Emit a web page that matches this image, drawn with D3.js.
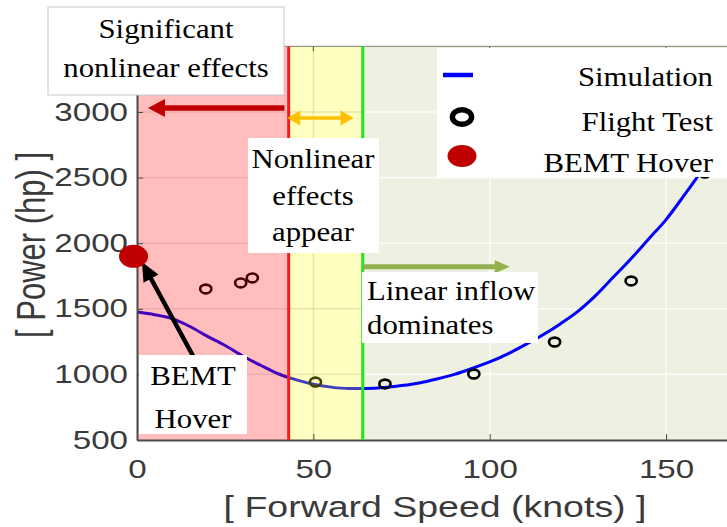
<!DOCTYPE html>
<html>
<head>
<meta charset="utf-8">
<script src="https://cdn.jsdelivr.net/npm/d3@7"></script>
<style>
  html, body { margin: 0; padding: 0; background: #fff; }
  svg { display: block; }
</style>
</head>
<body>
<svg id="chart" width="727" height="527"></svg>
<script>
// Rotor power required vs forward speed: simulation, flight test and BEMT hover estimate
const simSpeed = [0, 5, 10, 15, 20, 25, 30, 35, 40, 45, 50, 55, 60, 65, 70, 75, 80, 85, 90, 95,
                  100, 105, 110, 115, 120, 125, 130, 135, 140, 145, 150, 155, 160, 165];
const simPower = [1475, 1455, 1425, 1365, 1290, 1220, 1140, 1070, 1005, 960, 925, 903, 892, 893, 900, 915, 935, 965, 1000, 1045,
                  1095, 1155, 1225, 1300, 1385, 1480, 1600, 1740, 1880, 2030, 2180, 2360, 2550, 2760];
const testSpeed = [19.5, 29.4, 32.7, 50.6, 70.3, 95.5, 118.4, 140.1, 161];
const testPower = [1651, 1697, 1735, 942, 927, 1003, 1247, 1712, 2535];
const bemtSpeed = [0];
const bemtPower = [1900];
const xTicks = [0, 50, 100, 150];
const yTicks = [500, 1000, 1500, 2000, 2500, 3000];
const gridY = [1000, 1500, 2000, 2500, 3000];
const gridX = [50, 100, 150];
const regionBounds = [43, 64];   // knots: end of strong nonlinearity, start of linear inflow
const legendLabels = ["Simulation", "Flight Test", "BEMT Hover"];

const SANS = "'Liberation Sans', Arial, sans-serif";
const SERIF = "'Liberation Serif', 'Times New Roman', serif";

const svg = d3.select("#chart");
const x = d3.scaleLinear().domain([0, 170]).range([137, 736.6]);
const y = d3.scaleLinear().domain([500, 3500]).range([440, 46.4]);
const [x0, x1] = x.range();
const [yB, yT] = y.range();

const defs = svg.append("defs");
function clipRect(id, a, b) {
  defs.append("clipPath").attr("id", id).append("rect")
    .attr("x", a).attr("y", yT).attr("width", b - a).attr("height", yB - yT);
}
clipRect("clipLinear", x(regionBounds[1]), x1);
clipRect("clipNonlin", x0, x(regionBounds[1]));

// background of the linear-inflow region
svg.append("rect")
  .attr("x", x(regionBounds[1])).attr("y", yT)
  .attr("width", x1 - x(regionBounds[1])).attr("height", yB - yT)
  .attr("fill", "#eef0e2");

function drawGrid(clipId, color, width) {
  const g = svg.append("g").attr("clip-path", `url(#${clipId})`)
    .attr("stroke", color).attr("stroke-width", width);
  g.selectAll("line.h").data(gridY).join("line").attr("class", "h")
    .attr("x1", x0).attr("x2", x1).attr("y1", d => y(d)).attr("y2", d => y(d));
  g.selectAll("line.v").data(gridX).join("line").attr("class", "v")
    .attr("x1", d => x(d)).attr("x2", d => x(d)).attr("y1", yT).attr("y2", yB);
}
drawGrid("clipLinear", "#fbfbf8", 1.6);

// simulation curve
const line = d3.line().x((d, i) => x(simSpeed[i])).y(d => y(d)).curve(d3.curveMonotoneX);
svg.append("path").datum(simPower)
  .attr("d", line).attr("fill", "none")
  .attr("stroke", "#0000ff").attr("stroke-width", 3);

// flight test points
svg.append("g").selectAll("ellipse").data(testPower).join("ellipse")
  .attr("cx", (d, i) => x(testSpeed[i])).attr("cy", d => y(d))
  .attr("rx", 5.6).attr("ry", 4.4)
  .attr("fill", "none").attr("stroke", "#000").attr("stroke-width", 2.6);

// translucent overlays for the nonlinear regions
svg.append("rect")
  .attr("x", x0).attr("y", yT)
  .attr("width", x(regionBounds[0]) - x0).attr("height", yB - yT)
  .attr("fill", "rgb(255,0,0)").attr("fill-opacity", 0.26);
svg.append("rect")
  .attr("x", x(regionBounds[0])).attr("y", yT)
  .attr("width", x(regionBounds[1]) - x(regionBounds[0])).attr("height", yB - yT)
  .attr("fill", "rgb(255,255,0)").attr("fill-opacity", 0.25);
drawGrid("clipNonlin", "rgba(140,80,50,0.16)", 1.4);

// top border with inward ticks
svg.append("line").attr("x1", x0).attr("x2", x1).attr("y1", yT).attr("y2", yT)
  .attr("stroke", "#9a9a8a").attr("stroke-width", 1.2);
svg.append("g").selectAll("line").data(xTicks.slice(1)).join("line")
  .attr("x1", d => x(d)).attr("x2", d => x(d)).attr("y1", yT).attr("y2", yT + 5)
  .attr("stroke", "#555").attr("stroke-width", 1);

// axes
const axL = svg.append("g").attr("transform", `translate(${x0},0)`)
  .call(d3.axisLeft(y).tickValues(yTicks).tickFormat(d3.format("d"))
    .tickSizeInner(-6).tickSizeOuter(0).tickPadding(0));
const axB = svg.append("g").attr("transform", `translate(0,${yB})`)
  .call(d3.axisBottom(x).tickValues(xTicks).tickFormat(d3.format("d"))
    .tickSizeInner(-6).tickSizeOuter(0).tickPadding(0));
[axL, axB].forEach(ax => {
  ax.select(".domain").attr("stroke", "#4a4a4a").attr("stroke-width", 2);
  ax.selectAll(".tick line").attr("stroke", "#4a4a4a").attr("stroke-width", 1);
  ax.selectAll(".tick text")
    .style("font-family", SANS).style("font-size", "25.5px").attr("fill", "#3a3a3a");
});
axL.selectAll(".tick text").attr("x", 0).attr("transform", "translate(-9,0) scale(1.3,1)");
axB.selectAll(".tick text").attr("y", 0).attr("dy", null).attr("transform", "translate(0,38) scale(1.3,1)");

// helper for horizontally stretched text
function label(parent, px, py, str, o) {
  return parent.append("text")
    .attr("transform", `translate(${px},${py}) scale(${o.sx || 1},1)${o.rotate ? ` rotate(${o.rotate})` : ""}`)
    .attr("text-anchor", o.anchor || "middle")
    .style("font-family", o.family)
    .style("font-size", o.size + "px")
    .attr("fill", o.fill || "#000")
    .text(str);
}

// axis titles
label(svg, 435, 517, "[ Forward Speed (knots) ]", { family: SANS, size: 30, sx: 1.25, fill: "#3a3a3a" });
label(svg, 45, 245, "[ Power (hp) ]", { family: SANS, size: 31, sx: 1.3, rotate: -90, fill: "#3a3a3a" });

// region boundaries
svg.append("line").attr("x1", x(regionBounds[0])).attr("x2", x(regionBounds[0]))
  .attr("y1", yT).attr("y2", yB).attr("stroke", "#ff1a1a").attr("stroke-width", 3);
svg.append("line").attr("x1", x(regionBounds[1])).attr("x2", x(regionBounds[1]))
  .attr("y1", yT).attr("y2", yB).attr("stroke", "#1ee61e").attr("stroke-width", 3);

// arrows
function arrow(pA, pB, color, w, headLen, headHalf, both) {
  const g = svg.append("g");
  const dx = pB[0] - pA[0], dy = pB[1] - pA[1];
  const L = Math.hypot(dx, dy), ux = dx / L, uy = dy / L, nx = -uy, ny = ux;
  const head = (tip, s) => {
    const bx = tip[0] - s * ux * headLen, by = tip[1] - s * uy * headLen;
    g.append("polygon").attr("fill", color)
      .attr("points", [[tip[0], tip[1]], [bx + nx * headHalf, by + ny * headHalf], [bx - nx * headHalf, by - ny * headHalf]].join(" "));
  };
  const sA = both ? [pA[0] + ux * headLen * 0.9, pA[1] + uy * headLen * 0.9] : pA;
  const sB = [pB[0] - ux * headLen * 0.9, pB[1] - uy * headLen * 0.9];
  g.append("line").attr("x1", sA[0]).attr("y1", sA[1]).attr("x2", sB[0]).attr("y2", sB[1])
    .attr("stroke", color).attr("stroke-width", w);
  head(pB, 1);
  if (both) head(pA, -1);
}
arrow([x(41.8), y(3030)], [x(3.1), y(3030)], "#c00000", 5.5, 17, 9, false);
arrow([x(42.6), y(2955)], [x(61.4), y(2955)], "#ffc000", 3.5, 13, 7.5, true);
arrow([x(64.2), y(1820)], [x(105.7), y(1820)], "#92b050", 5, 15, 6.5, false);
arrow([x(15.9), y(1140)], [x(1.4), y(1857)], "#000000", 4.5, 19, 8.5, false);

// BEMT hover estimate
svg.append("g").selectAll("ellipse").data(bemtPower).join("ellipse")
  .attr("cx", (d, i) => x(bemtSpeed[i]) - 3.5).attr("cy", d => y(d))
  .attr("rx", 14.5).attr("ry", 11.5).attr("fill", "#c00000");

// annotation boxes
function box(bx, by, bw, bh, lines, o) {
  const g = svg.append("g");
  g.append("rect").attr("x", bx).attr("y", by).attr("width", bw).attr("height", bh)
    .attr("fill", "#fff").attr("stroke", o.stroke || "none").attr("stroke-width", 1);
  lines.forEach(l => label(g, l[0], l[1], l[2], { family: SERIF, size: 27, sx: 1.14, anchor: o.anchor || "middle" }));
}
box(48, 7, 236, 88, [[166, 38, "Significant"], [166, 77, "nonlinear effects"]], { stroke: "#c8c8c8" });
box(248, 138, 131, 115, [[313, 168, "Nonlinear"], [313, 205, "effects"], [313, 241, "appear"]], {});
box(362, 272, 176, 71, [[367, 300, "Linear inflow"], [367, 334, "dominates"]], { anchor: "start" });
box(139, 355, 108, 79, [[193, 385, "BEMT"], [193, 428, "Hover"]], {});

// legend
const lg = svg.append("g");
lg.append("rect").attr("x", 437).attr("y", 48).attr("width", 300).attr("height", 129).attr("fill", "#fff");
lg.append("line").attr("x1", 443).attr("x2", 473).attr("y1", 75).attr("y2", 75)
  .attr("stroke", "#0000ff").attr("stroke-width", 4.5);
lg.append("ellipse").attr("cx", 462).attr("cy", 117).attr("rx", 9.6).attr("ry", 7.2)
  .attr("fill", "none").attr("stroke", "#000").attr("stroke-width", 5.4);
lg.append("ellipse").attr("cx", 462).attr("cy", 156).attr("rx", 14.5).attr("ry", 11)
  .attr("fill", "#c00000");
[86, 131, 172].forEach((by, i) =>
  label(lg, 713, by, legendLabels[i], { family: SERIF, size: 27, sx: 1.14, anchor: "end" }));
</script>
</body>
</html>
